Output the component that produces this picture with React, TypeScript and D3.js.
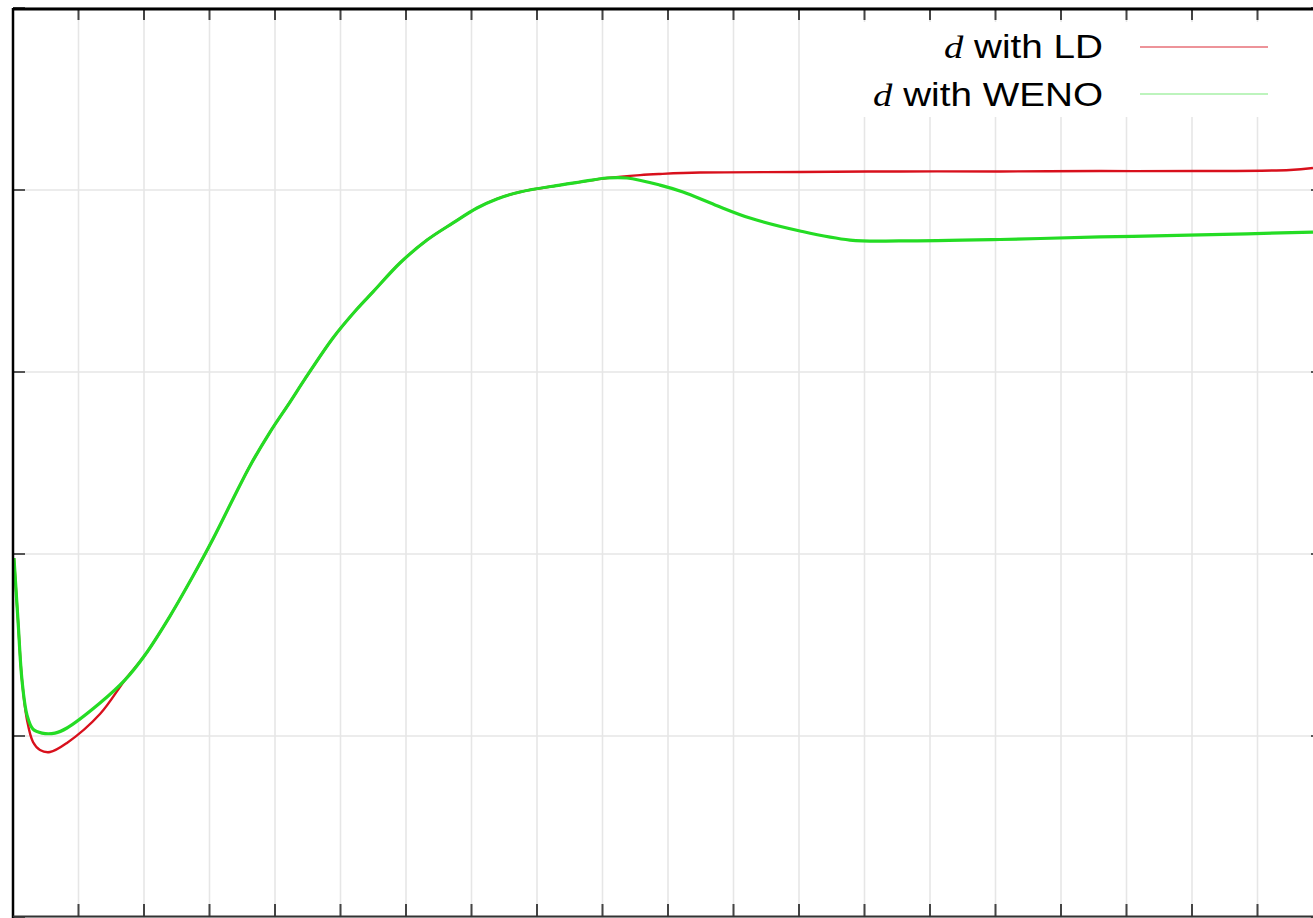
import React from "react";
import * as d3 from "d3";

const xTicks = d3.range(0, 21, 1);
const yTicks = [0, 1, 2, 3, 4, 5];

// shared rising section (both schemes coincide here)
const riseX = [2.015, 2.397, 2.748, 3.053, 3.359, 3.618, 3.924, 4.229, 4.458, 4.885, 5.252, 5.496, 5.908, 6.321, 6.718, 7.084, 7.389, 7.74, 8.351, 8.656, 9.069];
const riseY = [1.445, 1.659, 1.879, 2.082, 2.302, 2.484, 2.67, 2.835, 2.962, 3.187, 3.346, 3.44, 3.599, 3.725, 3.819, 3.901, 3.951, 3.989, 4.027, 4.044, 4.066];

const ldStartX = [0.015, 0.076, 0.137, 0.214, 0.305, 0.412, 0.565, 0.824, 1.328, 1.71];
const ldStartY = [1.978, 1.637, 1.308, 1.088, 0.967, 0.923, 0.912, 0.962, 1.121, 1.308];
const ldEndX = [9.573, 9.878, 10.489, 12.015, 13.542, 15.069, 16.595, 18.122, 19.496, 19.847];
const ldEndY = [4.082, 4.088, 4.096, 4.099, 4.102, 4.102, 4.104, 4.104, 4.11, 4.121];

const wenoStartX = [0.015, 0.076, 0.137, 0.214, 0.305, 0.443, 0.641, 0.824, 1.328, 1.71];
const wenoStartY = [1.978, 1.637, 1.308, 1.115, 1.038, 1.016, 1.016, 1.044, 1.181, 1.308];
const wenoEndX = [9.374, 9.878, 10.229, 10.718, 11.252, 12.015, 12.779, 13.542, 15.069, 16.595, 18.122, 19.847];
const wenoEndY = [4.066, 4.027, 3.989, 3.918, 3.846, 3.775, 3.725, 3.72, 3.728, 3.742, 3.753, 3.769];

const seriesNames = ["with LD", "with WENO"];

export default function App() {
  const W = 1313, H = 918;
  const left = 13, right = 1323, top = 8, bottom = 918;
  const x = d3.scaleLinear().domain([0, 20]).range([left, right]);
  const y = d3.scaleLinear().domain([0, 5]).range([bottom, top]);
  const line = d3.line<[number, number]>().x(d => x(d[0])).y(d => y(d[1])).curve(d3.curveCatmullRom.alpha(0.5));
  const zip = (xs: number[], ys: number[]) => xs.map((v, i) => [v, ys[i]] as [number, number]);
  const rise = zip(riseX, riseY);
  const ld = [...zip(ldStartX, ldStartY), ...rise, ...zip(ldEndX, ldEndY)];
  const weno = [...zip(wenoStartX, wenoStartY), ...rise, ...zip(wenoEndX, wenoEndY)];
  const tl = 12;
  const sans = "Liberation Sans, Arial, sans-serif";
  const serif = "Liberation Serif, Times New Roman, serif";
  return (
    <svg width={W} height={H} style={{ position: "absolute", left: 0, top: 0, background: "#fff" }}>
      <rect x={0} y={0} width={W} height={H} fill="#fff" />
      {xTicks.map(t => (
        <line key={"gx" + t} x1={x(t)} x2={x(t)} y1={top} y2={bottom} stroke="#e6e6e6" strokeWidth={1.6} />
      ))}
      {yTicks.map(t => (
        <line key={"gy" + t} x1={left} x2={right} y1={y(t)} y2={y(t)} stroke="#e6e6e6" strokeWidth={1.6} />
      ))}
      {xTicks.map(t => (
        <g key={"tx" + t}>
          <line x1={x(t)} x2={x(t)} y1={top} y2={top + tl} stroke="#444" strokeWidth={2} />
          <line x1={x(t)} x2={x(t)} y1={bottom - 2} y2={bottom - 2 - tl} stroke="#444" strokeWidth={2} />
        </g>
      ))}
      {yTicks.map(t => (
        <g key={"ty" + t}>
          <line x1={left} x2={left + tl} y1={y(t)} y2={y(t)} stroke="#555" strokeWidth={2} />
          <line x1={right} x2={right - tl} y1={y(t)} y2={y(t)} stroke="#555" strokeWidth={2} />
        </g>
      ))}
      <path d={line(ld) || ""} fill="none" stroke="#d8101c" strokeWidth={2.4} />
      <path d={line(weno) || ""} fill="none" stroke="#24dc24" strokeWidth={3.2} />
      {/* frame */}
      <line x1={left} x2={left} y1={top} y2={bottom} stroke="#000" strokeWidth={2.5} />
      <line x1={left} x2={W} y1={top + 1} y2={top + 1} stroke="#000" strokeWidth={3} />
      <line x1={left} x2={W} y1={bottom - 1.5} y2={bottom - 1.5} stroke="#333" strokeWidth={2} />
      {/* legend */}
      <rect x={860} y={22} width={420} height={95} fill="#fff" />
      <g transform="translate(1103,58) scale(1.19,1)">
        <text x={0} y={0} textAnchor="end" fontSize={32.5} fontFamily={sans} fill="#000">
          <tspan fontFamily={serif} fontStyle="italic">d</tspan>
          <tspan> {seriesNames[0]}</tspan>
        </text>
      </g>
      <line x1={1140} x2={1268} y1={47} y2={47} stroke="#d8101c" strokeOpacity={0.45} strokeWidth={2} />
      <g transform="translate(1103,106) scale(1.19,1)">
        <text x={0} y={0} textAnchor="end" fontSize={32.5} fontFamily={sans} fill="#000">
          <tspan fontFamily={serif} fontStyle="italic">d</tspan>
          <tspan> {seriesNames[1]}</tspan>
        </text>
      </g>
      <line x1={1140} x2={1268} y1={94} y2={94} stroke="#24dc24" strokeOpacity={0.3} strokeWidth={2} />
    </svg>
  );
}
